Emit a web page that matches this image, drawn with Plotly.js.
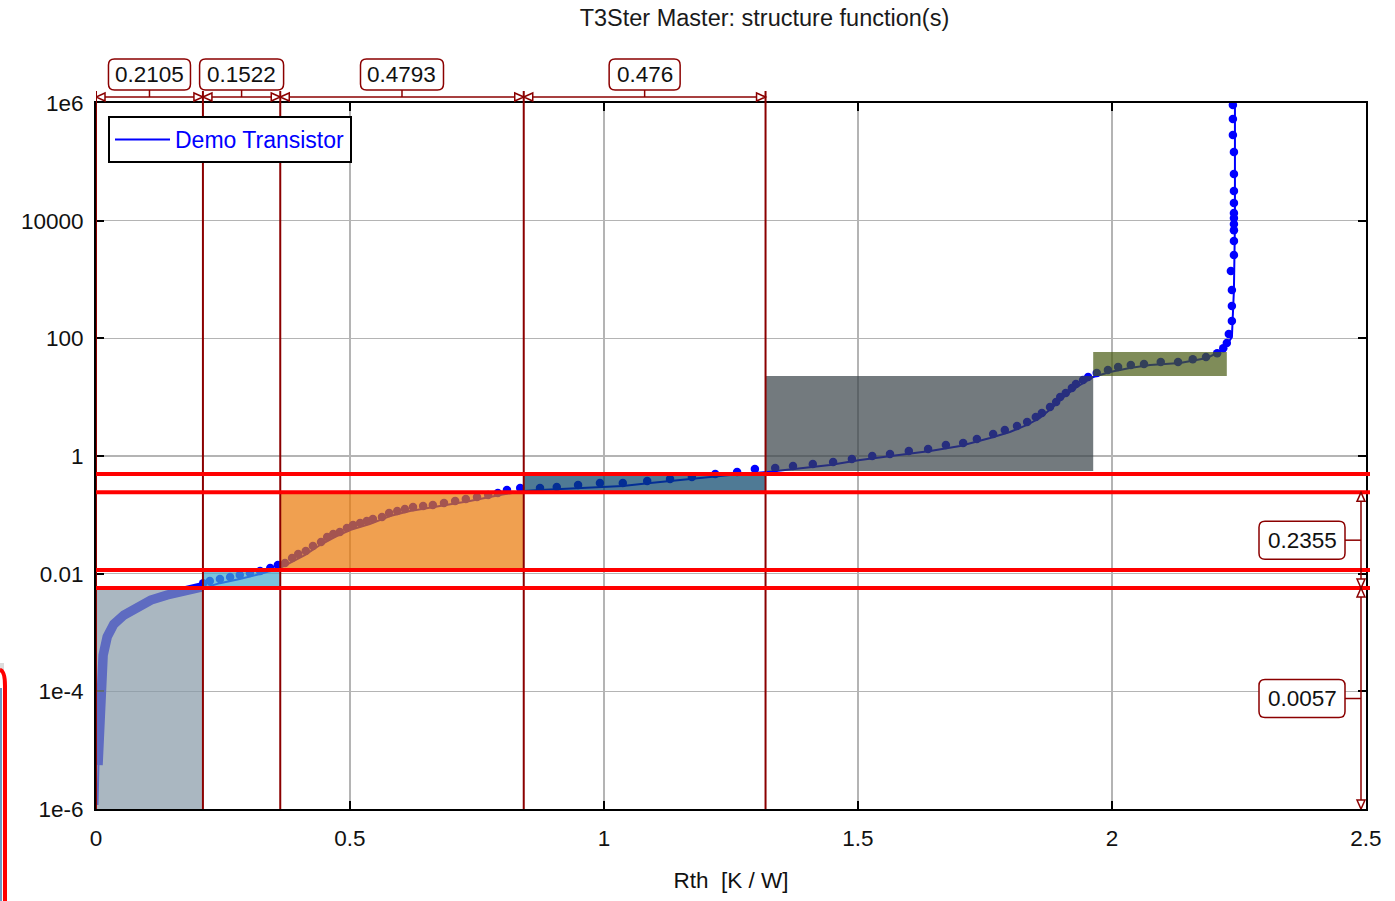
<!DOCTYPE html>
<html><head><meta charset="utf-8">
<script src="https://cdn.plot.ly/plotly-3.0.1.min.js"></script>
<style>html,body{margin:0;padding:0;background:#fff;}#chart{width:1395px;height:901px;}</style>
</head><body><div id="chart"></div>
<script>
// ---- data: structure function line (Rth [K/W], Cth) ----
const lineRth = [0.003,0.004,0.006,0.008,0.010,0.014,0.022,0.035,0.055,0.081,0.108,0.140,0.173,0.211,0.244,0.283,0.323,0.362,0.382,0.411,0.441,0.470,0.500,0.539,0.579,0.618,0.677,0.736,0.795,0.841,0.874,0.913,0.953,0.992,1.037,1.091,1.150,1.209,1.268,1.321,1.386,1.445,1.504,1.583,1.642,1.701,1.760,1.799,1.833,1.858,1.884,1.907,1.931,1.963,1.996,2.035,2.075,2.134,2.187,2.219,2.236,2.240,2.242,2.242,2.242];
const lineCth = [1.17e-6,4.6e-6,1.49e-5,4.8e-5,1.28e-4,3.4e-4,7.4e-4,1.34e-3,1.9e-3,2.6e-3,3.43e-3,4.17e-3,4.88e-3,5.7e-3,6.9e-3,8.1e-3,9.9e-3,0.0125,0.0152,0.0207,0.0307,0.042,0.0552,0.0698,0.0955,0.116,0.141,0.172,0.217,0.254,0.264,0.275,0.286,0.297,0.309,0.347,0.391,0.44,0.494,0.535,0.625,0.703,0.855,1.04,1.22,1.48,2.02,2.56,3.37,4.42,6.8,10.5,14.9,22.0,26.8,31.3,35.2,38.0,46.3,63.3,105,662,9100,1.59e5,1.1e6];
// dense sample points at the start (merge into a band)
const denseRth = [0.004,0.006,0.008,0.010,0.014,0.022,0.035,0.055,0.081,0.108,0.140,0.173,0.207];
const denseCth = [5.6e-6,2.2e-5,7.1e-5,1.9e-4,4.1e-4,8.4e-4,1.39e-3,1.98e-3,2.71e-3,3.56e-3,4.34e-3,5.07e-3,5.9e-3];
// discrete sample dots
const dotRth = [0.211,0.224,0.244,0.264,0.283,0.303,0.323,0.343,0.358,
  0.372,0.386,0.398,0.413,0.427,0.443,0.455,0.467,0.480,0.494,0.506,0.520,0.533,0.545,0.563,0.577,0.593,0.608,0.624,0.644,0.663,0.685,0.707,0.728,0.750,0.772,0.791,0.809,
  0.835,0.874,0.907,0.949,0.992,1.037,1.085,1.130,1.173,1.219,1.262,1.297,
  1.337,1.372,1.411,1.451,1.488,1.528,1.563,1.600,1.638,1.673,1.707,1.734,1.766,1.789,1.813,1.833,1.850,1.862,1.878,1.890,1.898,1.909,1.921,1.929,1.943,1.953,1.970,
  1.992,2.012,2.037,2.063,2.096,2.130,2.159,2.185,2.207,2.219,2.226,2.230,2.236,2.236,2.236,2.234,2.240,2.240,2.240,2.240,2.240,2.240,2.240,2.240,2.240,2.240,2.238,2.238,2.238];
const dotCth = [0.0069,0.0075,0.0081,0.0088,0.0095,0.0103,0.0111,0.0125,0.014,
  0.0152,0.0185,0.0216,0.0243,0.0295,0.0345,0.042,0.0472,0.0511,0.0597,0.0671,0.0726,0.0785,0.085,0.092,0.107,0.116,0.126,0.136,0.141,0.147,0.159,0.172,0.186,0.201,0.217,0.235,0.264,
  0.286,0.286,0.297,0.321,0.347,0.347,0.376,0.406,0.44,0.494,0.535,0.60,
  0.625,0.676,0.73,0.79,0.89,1.0,1.08,1.22,1.32,1.54,1.66,1.95,2.37,2.77,3.24,3.8,4.6,5.4,6.8,8.3,10.1,11.8,14.3,16.7,19.6,22.0,25.7,
  29,32.5,35.2,36.6,39.5,39.5,44,48,56,68,83,118,197,354,662,1390,2600,4500,6900,8800,11100,13500,20000,31900,62000,147000,286000,535000,925000];
// cursor data
const segWidths = [0.2105, 0.1522, 0.4793, 0.476];
const hLevels = [0.0057, 0.0115, 0.2412, 0.494];
const yDimBottom = 1e-6;
const yDimValues = [0.0057, 0.2355];
// shaded regions
const rectX0 = [0, 0.2105, 0.3627, 0.842, 1.318, 1.963];
const rectX1 = [0.2105, 0.3627, 0.842, 1.318, 1.963, 2.226];
const rectY0 = [1e-6, 0.0057, 0.0115, 0.2412, 0.556, 22.9];
const rectY1 = [0.0057, 0.0115, 0.2412, 0.494, 22.9, 58.5];
const rectColors = ['#8698A6', '#41A9CD', '#EA7705', '#044168', '#374247', '#485B13'];
// ticks
const xTicks = [0, 0.5, 1, 1.5, 2, 2.5];
const yTicks = [1e-6, 1e-4, 0.01, 1, 100, 1e4, 1e6];
const yTickText = ['1e-6', '1e-4', '0.01', '1', '100', '10000', '1e6'];

const FONT = '"Liberation Sans", Arial, sans-serif';
const FS = 22.5;
const DARKRED = '#8B0000';

// plot geometry (for pixel-sized decorations)
const W = 1395, H = 901, M = {l: 96, r: 29, t: 103, b: 92};
const XR = [0, 2.5], YR = [-6, 6];
const pxX = (W - M.l - M.r) / (XR[1] - XR[0]);     // px per x unit
const pxP_W = (W - M.l - M.r), pxP_H = (H - M.t - M.b);
const pxDec = pxP_H / (YR[1] - YR[0]);             // px per decade
const pyPaper = py => (H - M.b - py) / pxP_H;      // page px -> paper y
const pxPaper = px => (px - M.l) / pxP_W;          // page px -> paper x

const traces = [
  {x: lineRth, y: lineCth, type: 'scatter', mode: 'lines', name: 'Demo Transistor',
   line: {color: '#0000FF', width: 2}},
  {x: denseRth, y: denseCth, type: 'scatter', mode: 'lines', showlegend: false,
   line: {color: '#0000FF', width: 9.5}},
  {x: dotRth, y: dotCth, type: 'scatter', mode: 'markers', showlegend: false,
   marker: {color: '#0000FF', size: 8.5}}
];

const shapes = [];
rectX0.forEach((x0, i) => shapes.push({type: 'rect', xref: 'x', yref: 'y', x0: x0, x1: rectX1[i],
  y0: rectY0[i], y1: rectY1[i], fillcolor: rectColors[i], opacity: 0.7, line: {width: 0}, layer: 'above'}));

const bounds = [0];
segWidths.forEach(w => bounds.push(+(bounds[bounds.length - 1] + w).toFixed(4)));
bounds.forEach(b => shapes.push({type: 'line', xref: 'x', yref: 'paper', x0: b, x1: b, y0: 0, y1: pyPaper(91),
  line: {color: DARKRED, width: 2}, layer: 'above'}));
hLevels.forEach(v => shapes.push({type: 'line', xref: 'paper', yref: 'y', x0: 0, x1: pxPaper(1370), y0: v, y1: v,
  line: {color: '#FF0000', width: 4}, layer: 'above'}));

const boxStyle = {layer: 'above', fillcolor: 'white', line: {color: DARKRED, width: 1.5}};
function roundRectPath(x0, x1, y0, y1, rx, ry, ymul) {
  const yu = ymul ? (v, d) => v * Math.pow(10, d) : (v, d) => v + d;
  return `M ${x0 + rx},${y1} L ${x1 - rx},${y1} Q ${x1},${y1} ${x1},${yu(y1, -ry)} L ${x1},${yu(y0, ry)} ` +
    `Q ${x1},${y0} ${x1 - rx},${y0} L ${x0 + rx},${y0} Q ${x0},${y0} ${x0},${yu(y0, ry)} L ${x0},${yu(y1, -ry)} ` +
    `Q ${x0},${y1} ${x0 + rx},${y1} Z`;
}

// top dimension line
const yTop = pyPaper(97), adx = 9 / pxX, ady = 4 / pxP_H;
shapes.push({type: 'line', xref: 'x', yref: 'paper', x0: bounds[0], x1: bounds[bounds.length - 1], y0: yTop, y1: yTop,
  line: {color: DARKRED, width: 1.5}, layer: 'above'});
const annotations = [];
const topBoxW = [82, 84, 83, 71];
for (let i = 0; i < segWidths.length; i++) {
  const a = bounds[i], b = bounds[i + 1], c = (a + b) / 2;
  shapes.push(Object.assign({type: 'path', xref: 'x', yref: 'paper'}, boxStyle,
    {path: `M ${a},${yTop} L ${a + adx},${yTop + ady} L ${a + adx},${yTop - ady} Z`}));
  shapes.push(Object.assign({type: 'path', xref: 'x', yref: 'paper'}, boxStyle,
    {path: `M ${b},${yTop} L ${b - adx},${yTop + ady} L ${b - adx},${yTop - ady} Z`}));
  shapes.push({type: 'line', xref: 'x', yref: 'paper', x0: c, x1: c, y0: yTop, y1: pyPaper(90), line: {color: DARKRED, width: 1.5}, layer: 'above'});
  const hw = topBoxW[i] / 2 / pxX;
  shapes.push(Object.assign({type: 'path', xref: 'x', yref: 'paper'}, boxStyle,
    {path: roundRectPath(c - hw, c + hw, pyPaper(90), pyPaper(59), 6 / pxX, 6 / pxP_H, false)}));
  annotations.push({xref: 'x', yref: 'paper', x: c, y: pyPaper(75), xanchor: 'center', yanchor: 'middle', showarrow: false,
    text: segWidths[i].toString(), font: {family: FONT, size: FS, color: '#111'}});
}

// right dimension
const xDim = pxPaper(1361), vdx = 4 / pxP_W, tipDec = 9 / pxDec;
const stops = [yDimBottom, yDimValues[0], +(yDimValues[0] + yDimValues[1]).toFixed(4)];
for (let i = 0; i < yDimValues.length; i++) {
  const lo = stops[i], hi = stops[i + 1];
  const mid = (Math.log10(lo) + Math.log10(hi)) / 2;
  const f = Math.pow(10, tipDec);
  shapes.push({type: 'line', xref: 'paper', yref: 'y', x0: xDim, x1: xDim, y0: lo, y1: hi, line: {color: DARKRED, width: 1.5}, layer: 'above'});
  shapes.push(Object.assign({type: 'path', xref: 'paper', yref: 'y'}, boxStyle,
    {path: `M ${xDim},${hi} L ${xDim - vdx},${hi / f} L ${xDim + vdx},${hi / f} Z`}));
  shapes.push(Object.assign({type: 'path', xref: 'paper', yref: 'y'}, boxStyle,
    {path: `M ${xDim},${lo} L ${xDim - vdx},${lo * f} L ${xDim + vdx},${lo * f} Z`}));
  shapes.push({type: 'line', xref: 'paper', yref: 'y', x0: pxPaper(1345), x1: xDim, y0: Math.pow(10, mid), y1: Math.pow(10, mid), line: {color: DARKRED, width: 1.5}, layer: 'above'});
  const bx0 = pxPaper(1259), bx1 = pxPaper(1345), halfDec = 19 / pxDec;
  shapes.push(Object.assign({type: 'path', xref: 'paper', yref: 'y'}, boxStyle,
    {path: roundRectPath(bx0, bx1, Math.pow(10, mid - halfDec), Math.pow(10, mid + halfDec), 6 / pxP_W, 6 / pxDec, true)}));
  annotations.push({xref: 'paper', yref: 'y', x: (bx0 + bx1) / 2, y: mid, xanchor: 'center', yanchor: 'middle', showarrow: false,
    text: yDimValues[i].toString(), font: {family: FONT, size: FS, color: '#111'}});
}

// left edge artifact (window border behind)
shapes.push({type: 'rect', xref: 'paper', yref: 'paper', x0: pxPaper(0), x1: pxPaper(4), y0: pyPaper(670), y1: pyPaper(663), fillcolor: '#dcdcdc', line: {width: 0}});
shapes.push({type: 'rect', xref: 'paper', yref: 'paper', x0: pxPaper(0), x1: pxPaper(2), y0: pyPaper(901), y1: pyPaper(688), fillcolor: '#6b9ac4', line: {width: 0}});
shapes.push({type: 'path', xref: 'paper', yref: 'paper', line: {color: '#FF0000', width: 4},
  path: `M ${pxPaper(0)},${pyPaper(670)} Q ${pxPaper(5)},${pyPaper(671)} ${pxPaper(5)},${pyPaper(686)} L ${pxPaper(5)},${pyPaper(902)}`});

const axisCommon = {showline: true, linecolor: '#000', linewidth: 2, mirror: 'ticks', ticks: 'inside', ticklen: 8,
  tickwidth: 2, tickcolor: '#000', showgrid: true, gridcolor: '#b4b4b4', gridwidth: 1.5, zeroline: false,
  tickfont: {family: FONT, size: FS, color: '#111'}};

const layout = {
  width: W, height: H, paper_bgcolor: '#fff', plot_bgcolor: '#fff',
  margin: M,
  title: {text: 'T3Ster Master: structure function(s)', font: {family: FONT, size: 23.5, color: '#1a1a1a'},
    xref: 'container', yref: 'container', x: 0.548, y: 1 - 18 / H, xanchor: 'center', yanchor: 'middle'},
  xaxis: Object.assign({}, axisCommon, {range: XR, tickvals: xTicks, ticklabelstandoff: 8,
    title: {text: 'Rth\u00a0 [K / W]', font: {family: FONT, size: FS, color: '#111'}, standoff: 22}}),
  yaxis: Object.assign({}, axisCommon, {type: 'log', range: YR, tickvals: yTicks, ticktext: yTickText, ticklabelstandoff: 6}),
  showlegend: true,
  legend: {x: pxPaper(108), y: pyPaper(116), xanchor: 'left', yanchor: 'top', bgcolor: '#fff', bordercolor: '#000', borderwidth: 2,
    itemwidth: 55, font: {family: FONT, size: 23, color: '#0000FF'}},
  shapes: shapes, annotations: annotations
};

Plotly.newPlot('chart', traces, layout, {displayModeBar: false, staticPlot: true});
</script></body></html>
